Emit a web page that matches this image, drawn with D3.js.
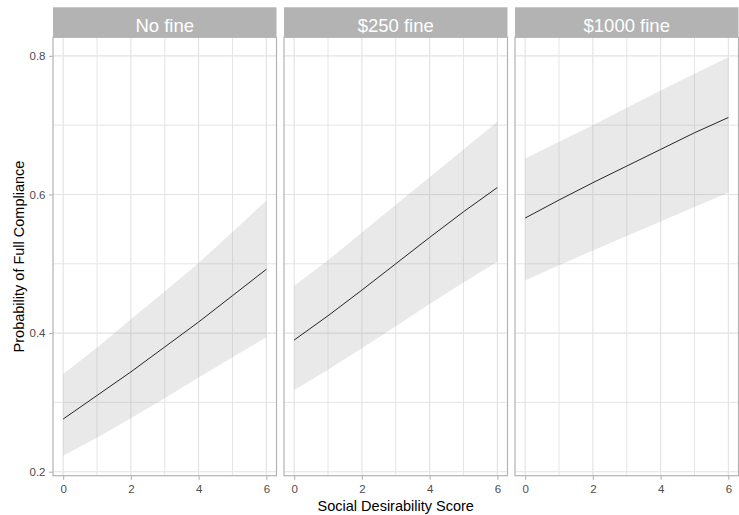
<!DOCTYPE html>
<html>
<head>
<meta charset="utf-8">
<script src="https://cdn.jsdelivr.net/npm/d3@7"></script>
<style>
  html, body { margin: 0; padding: 0; background: #ffffff; }
  svg { display: block; font-family: "Liberation Sans", Arial, sans-serif; }
</style>
</head>
<body>
<svg id="chart" width="739" height="515"></svg>
<script>
// Predicted probability of full compliance by social desirability score,
// one facet per fine condition, with confidence band.
const scores = [0, 1, 2, 3, 4, 5, 6];
const facetLabels = ["No fine", "$250 fine", "$1000 fine"];

const fitNoFine   = [0.276, 0.310, 0.344, 0.380, 0.416, 0.454, 0.492];
const lowerNoFine = [0.223, 0.249, 0.277, 0.306, 0.336, 0.365, 0.394];
const upperNoFine = [0.341, 0.379, 0.420, 0.460, 0.501, 0.546, 0.591];

const fit250   = [0.390, 0.425, 0.462, 0.500, 0.538, 0.575, 0.610];
const lower250 = [0.318, 0.347, 0.378, 0.410, 0.442, 0.473, 0.503];
const upper250 = [0.468, 0.505, 0.545, 0.585, 0.625, 0.665, 0.705];

const fit1000   = [0.566, 0.592, 0.617, 0.641, 0.665, 0.689, 0.711];
const lower1000 = [0.476, 0.498, 0.519, 0.540, 0.561, 0.582, 0.603];
const upper1000 = [0.652, 0.676, 0.700, 0.725, 0.750, 0.774, 0.798];

const xTicks = [0, 2, 4, 6];
const xMinorTicks = [1, 3, 5];
const yTicks = [0.2, 0.4, 0.6, 0.8];
const yMinorTicks = [0.3, 0.5, 0.7];

const xTitle = "Social Desirability Score";
const yTitle = "Probability of Full Compliance";

const panels = [
  { label: facetLabels[0], fit: fitNoFine, lower: lowerNoFine, upper: upperNoFine },
  { label: facetLabels[1], fit: fit250,    lower: lower250,    upper: upper250 },
  { label: facetLabels[2], fit: fit1000,   lower: lower1000,   upper: upper1000 }
];

// Layout
const svg = d3.select("#chart");
const panelLeft = 53, panelWidth = 223.5, panelGap = 7.5;
const stripTop = 7.3, stripHeight = 30;
const panelTop = stripTop + stripHeight, panelBottom = 475.7;

// Scales with 5% expansion on both axes
const xExt = d3.extent(scores);
const xPad = (xExt[1] - xExt[0]) * 0.05;
const allLow = d3.min(panels, p => d3.min(p.lower));
const allHigh = d3.max(panels, p => d3.max(p.upper));
const yPad = (allHigh - allLow) * 0.05;

const y = d3.scaleLinear()
  .domain([allLow - yPad, allHigh + yPad])
  .range([panelBottom, panelTop]);

const gridColor = "#e2e2e2";
const borderColor = "#b3b3b3";
const tickTextColor = "#4d4d4d";

panels.forEach((p, i) => {
  const x0 = panelLeft + i * (panelWidth + panelGap);
  const x = d3.scaleLinear()
    .domain([xExt[0] - xPad, xExt[1] + xPad])
    .range([x0, x0 + panelWidth]);

  const g = svg.append("g");

  // Panel background
  g.append("rect")
    .attr("x", x0).attr("y", panelTop)
    .attr("width", panelWidth).attr("height", panelBottom - panelTop)
    .attr("fill", "#ffffff");

  // Grid lines (minor then major)
  g.selectAll(null).data(yMinorTicks).join("line")
    .attr("x1", x0).attr("x2", x0 + panelWidth)
    .attr("y1", d => y(d)).attr("y2", d => y(d))
    .attr("stroke", gridColor).attr("stroke-width", 0.9);
  g.selectAll(null).data(xMinorTicks).join("line")
    .attr("y1", panelTop).attr("y2", panelBottom)
    .attr("x1", d => x(d)).attr("x2", d => x(d))
    .attr("stroke", gridColor).attr("stroke-width", 0.9);
  g.selectAll(null).data(yTicks).join("line")
    .attr("x1", x0).attr("x2", x0 + panelWidth)
    .attr("y1", d => y(d)).attr("y2", d => y(d))
    .attr("stroke", gridColor).attr("stroke-width", 1.1);
  g.selectAll(null).data(xTicks).join("line")
    .attr("y1", panelTop).attr("y2", panelBottom)
    .attr("x1", d => x(d)).attr("x2", d => x(d))
    .attr("stroke", gridColor).attr("stroke-width", 1.1);

  // Confidence band
  const rows = scores.map((s, k) => ({ s, fit: p.fit[k], lo: p.lower[k], hi: p.upper[k] }));
  g.append("path")
    .datum(rows)
    .attr("d", d3.area().x(d => x(d.s)).y0(d => y(d.lo)).y1(d => y(d.hi)))
    .attr("fill", "#999999").attr("fill-opacity", 0.22);

  // Fitted line
  g.append("path")
    .datum(rows)
    .attr("d", d3.line().x(d => x(d.s)).y(d => y(d.fit)))
    .attr("fill", "none").attr("stroke", "#262626").attr("stroke-width", 1);

  // Panel border
  g.append("rect")
    .attr("x", x0).attr("y", panelTop)
    .attr("width", panelWidth).attr("height", panelBottom - panelTop)
    .attr("fill", "none").attr("stroke", borderColor).attr("stroke-width", 1.2);

  // Strip
  g.append("rect")
    .attr("x", x0).attr("y", stripTop)
    .attr("width", panelWidth).attr("height", stripHeight)
    .attr("fill", "#b3b3b3");
  g.append("text")
    .attr("x", x0 + panelWidth / 2).attr("y", stripTop + 24.3)
    .attr("text-anchor", "middle")
    .attr("fill", "#ffffff").attr("font-size", "18.5px")
    .text(p.label);

  // Bottom axis
  const xAxis = g.append("g")
    .attr("transform", `translate(0,${panelBottom})`)
    .call(d3.axisBottom(x).tickValues(xTicks).tickSize(4).tickPadding(5).tickFormat(d3.format("d")));
  xAxis.select(".domain").remove();
  xAxis.selectAll(".tick line").attr("stroke", borderColor).attr("stroke-width", 1.1);
  xAxis.selectAll(".tick text").attr("fill", tickTextColor).attr("font-size", "11.5px")
    .attr("font-family", "'Liberation Sans', Arial, sans-serif");

  // Left axis on the first panel only
  if (i === 0) {
    const yAxis = g.append("g")
      .attr("transform", `translate(${x0},0)`)
      .call(d3.axisLeft(y).tickValues(yTicks).tickSize(4).tickPadding(3.5).tickFormat(d3.format(".1f")));
    yAxis.select(".domain").remove();
    yAxis.selectAll(".tick line").attr("stroke", borderColor).attr("stroke-width", 1.1);
    yAxis.selectAll(".tick text").attr("fill", tickTextColor).attr("font-size", "11.5px")
      .attr("font-family", "'Liberation Sans', Arial, sans-serif");
  }
});

// Axis titles
const plotLeft = panelLeft;
const plotRight = panelLeft + 3 * panelWidth + 2 * panelGap;
svg.append("text")
  .attr("x", (plotLeft + plotRight) / 2).attr("y", 510.5)
  .attr("text-anchor", "middle")
  .attr("fill", "#000000").attr("font-size", "14.5px")
  .text(xTitle);

svg.append("text")
  .attr("transform", `translate(23.5,${(panelTop + panelBottom) / 2}) rotate(-90)`)
  .attr("text-anchor", "middle")
  .attr("fill", "#000000").attr("font-size", "14.5px")
  .text(yTitle);
</script>
</body>
</html>
